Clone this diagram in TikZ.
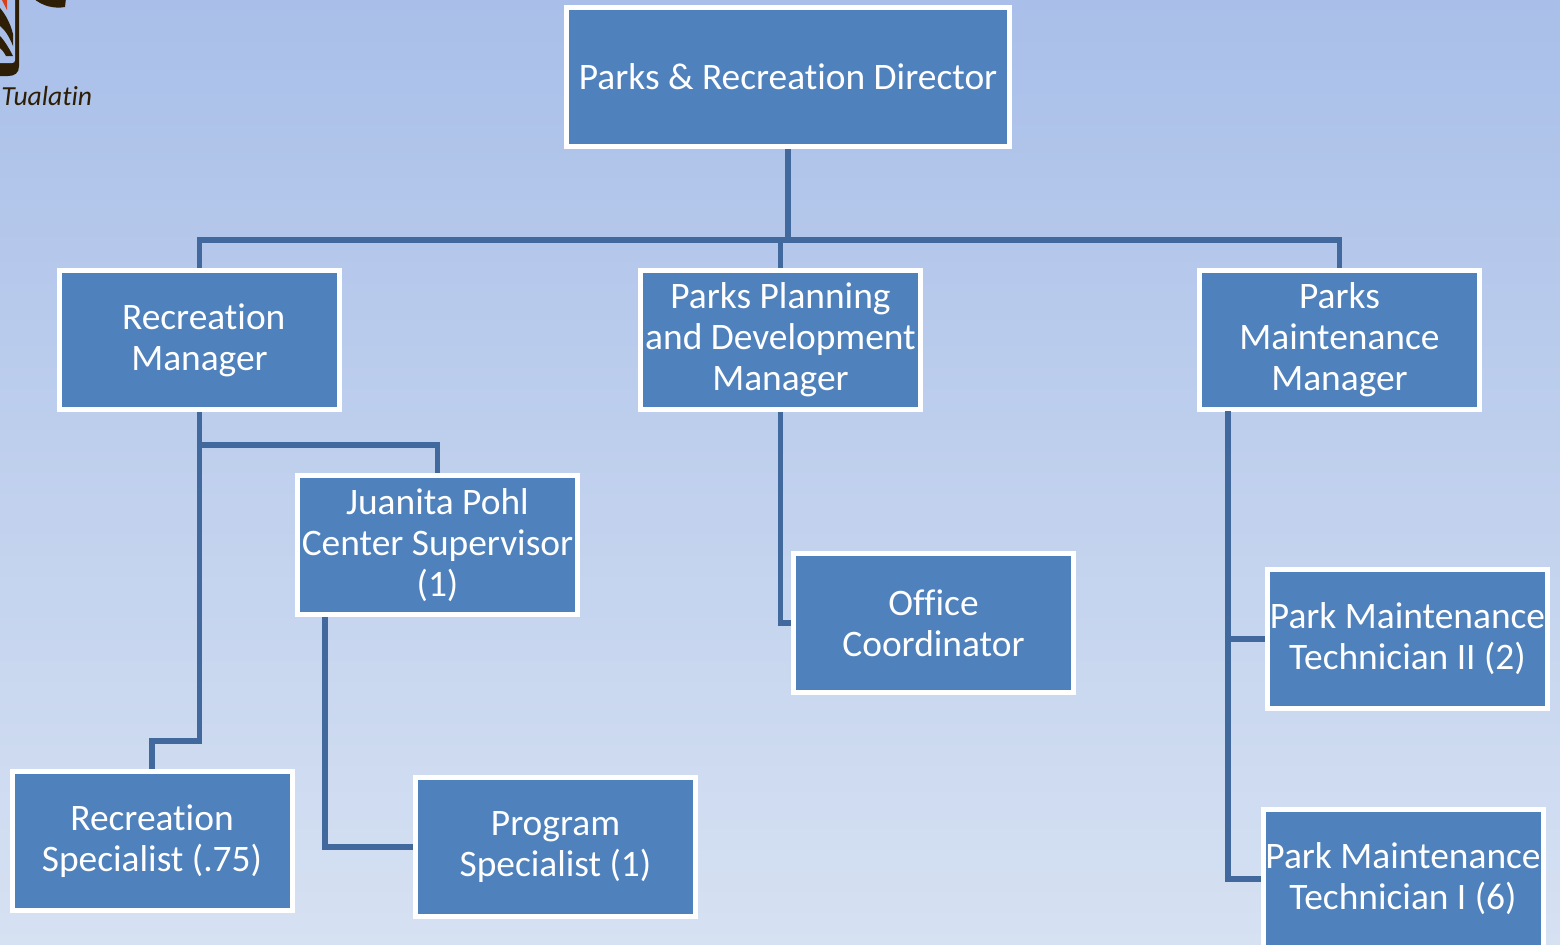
\documentclass[tikz,border=0pt]{standalone}
\usepackage{fontspec}
\setmainfont[Ligatures={NoCommon}]{Carlito}
\usetikzlibrary{positioning}
\definecolor{boxblue}{HTML}{4F81BD}
\definecolor{linkblue}{HTML}{41699E}
\definecolor{logobrown}{HTML}{2E1E05}
\definecolor{logored}{HTML}{D8401A}
\definecolor{bgtop}{HTML}{A9BFE9}
\definecolor{bgbottom}{HTML}{D6E1F2}
\tikzset{
    mybox/.style = {rectangle, draw=white, line width=2.5pt, fill=boxblue, text=white, align=center, inner sep=0pt, minimum width=140pt, minimum height=69.5pt, font=\fontsize{18.7}{20.5}\selectfont},
    myedge/.style = {draw=linkblue, line width=2.7pt, line join=miter},
}
\begin{document}
\begin{tikzpicture}[x=0.5pt,y=-0.5pt]
\useasboundingbox (0,0) rectangle (1560,944);
\clip (0,0) rectangle (1560,944);
\shade[top color=bgtop, bottom color=bgbottom] (0,0) rectangle (1560,944);
%
% logo corner
\fill[logobrown] (0,-2) -- (19,-2) -- (19,66) .. controls (19,73) and (15,76) .. (8,76) -- (0,76) -- cycle;
\fill[bgtop] (0,-2) -- (15,-2) -- (15,60) .. controls (15,62) and (14,63) .. (12,63) -- (0,63) -- cycle;
\fill[logobrown] (0,8) .. controls (5,14) and (10,22) .. (13,34) -- (13,46) .. controls (9,36) and (5,30) .. (0,26) -- cycle;
\fill[logobrown] (0,36) .. controls (4,40) and (9,48) .. (13,56) -- (6,56) .. controls (4,52) and (2,50) .. (0,48) -- cycle;
\fill[logored] (2,0) -- (7,0) -- (7,10) -- cycle;
\fill[logobrown] (33,-2) -- (66,-2) -- (65,7) .. controls (54,9) and (42,6) .. (33,-2) -- cycle;
\node[text=logobrown, inner sep=0pt, anchor=base west, font=\fontsize{13.8}{15}\itshape] (town) at (1,105) {Tualatin};
%
\node[mybox, minimum width=221.5pt] at (788,77) (dir) {Parks \& Recreation Director};
\node[mybox] at (199.5,340) (rman) {\mbox{}\ Recreation\\Manager};
\node[mybox] at (780.5,340) (pman) {Parks Planning\\and Development\\Manager};
\node[mybox] at (1339.5,340) (mman) {Parks\\Maintenance\\Manager};
\node[mybox] at (437.5,545) (jsup) {Juanita Pohl\\Center Supervisor\\(1)};
\node[mybox] at (933.5,623) (office) {Office\\Coordinator};
\node[mybox] at (1407.5,639) (tech2) {Park Maintenance\\Technician II (2)};
\node[mybox] at (1403,879) (tech1) {Park Maintenance\\Technician I (6)};
\node[mybox] at (152,841) (rspec) {Recreation\\Specialist (.75)};
\node[mybox] at (555.5,847) (prog) {Program\\Specialist (1)};
%
\coordinate (bus) at (788,240);
\coordinate (rright) at (199.5,445);
\coordinate (rleft) at (199.5,741);
\coordinate (jdrop) at (325,617);
\coordinate (mdrop) at (1228,411);
%
\draw[myedge] (dir) -- (bus);
\draw[myedge] (rman.north) |- (bus);
\draw[myedge] (mman.north) |- (bus);
\draw[myedge] (pman.north) -- (pman.north |- bus);
\draw[myedge] (rman.south) -- (rright) -| (jsup.north);
\draw[myedge] (rman.south) -- (rleft) -| (rspec.north);
\draw[myedge] (jdrop) |- (prog.west);
\draw[myedge] (pman.south) |- (office.west);
\draw[myedge] (mdrop) |- (tech2.west);
\draw[myedge] (mdrop) |- (tech1.west);

\end{tikzpicture}
\end{document}
